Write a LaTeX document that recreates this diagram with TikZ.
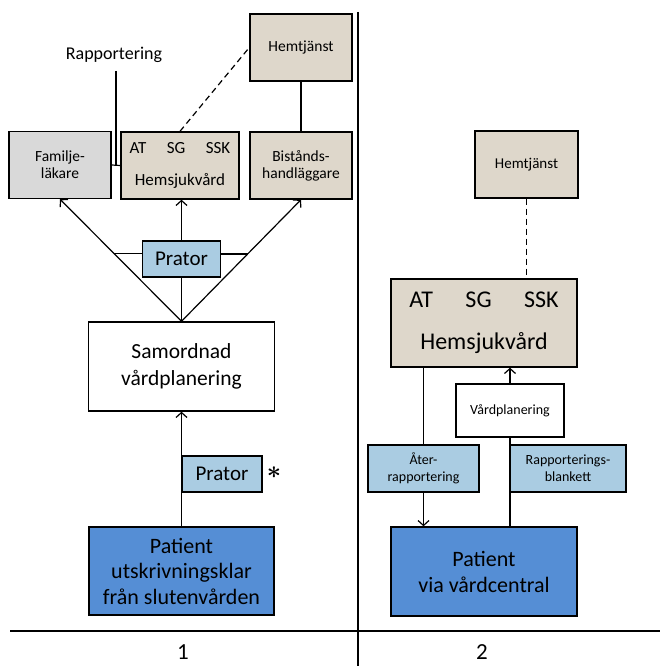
\documentclass[tikz,border=0pt]{standalone}
\usepackage{fontspec}
\setmainfont{Carlito}
\usetikzlibrary{arrows.meta}

\definecolor{boxtan}{HTML}{DED7CB}
\definecolor{boxgray}{HTML}{D9D9D9}
\definecolor{boxlight}{HTML}{AACCE2}
\definecolor{boxdark}{HTML}{558ED5}

\newcommand{\smalltxt}{\fontsize{15.5}{17}\selectfont}
\newcommand{\tinytxt}{\fontsize{14}{17}\selectfont}
\newcommand{\bigtxt}{\fontsize{21.5}{27}\selectfont}
\newcommand{\boldstar}{\mbox{\boldmath$\ast$}}

\begin{document}
\begin{tikzpicture}[x=1pt, y=-1pt, line width=1.2pt,
    >={Straight Barb[length=5pt,width=11pt]},
    box/.style={draw, line width=1.4pt, inner sep=0pt, align=center},
    tanbox/.style={box, fill=boxtan},
    graybox/.style={box, fill=boxgray},
    lightbox/.style={box, fill=boxlight},
    darkbox/.style={box, fill=boxdark},
    whitebox/.style={box, fill=white},
    dashline/.style={dash pattern=on 6pt off 4pt}]

    \useasboundingbox (0,0) rectangle (660,666);

    % Nodes for the left side, top row
    \node at (301,47.5) (hemtjL) [tanbox, minimum width=102pt, minimum height=67pt, font=\smalltxt] {Hemtjänst};
    \node at (114,55) (rapp) [font=\fontsize{18}{20}\selectfont] {Rapportering};
    \node at (60,165) (famlak) [graybox, minimum width=102pt, minimum height=67pt, font=\smalltxt] {Familje-\\läkare};
    \node at (180,165.5) (hemsjL) [tanbox, minimum width=118pt, minimum height=67pt, font=\fontsize{17}{20}\selectfont] {AT\hspace{1.2em}SG\hspace{1.2em}SSK\\[12pt]Hemsjukvård};
    \node at (301,165.5) (bistand) [tanbox, minimum width=102pt, minimum height=67pt, font=\smalltxt] {Bistånds-\\handläggare};

    % Nodes for the left side, lower part
    \node at (181.5,259) (pratorA) [lightbox, minimum width=78pt, minimum height=36pt, font=\fontsize{21}{25}\selectfont] {Prator};
    \node at (181.5,366.5) (samord) [whitebox, minimum width=186pt, minimum height=89pt, font=\bigtxt] {Samordnad\\vårdplanering};
    \node at (222,474) (pratorB) [lightbox, minimum width=80pt, minimum height=36pt, font=\fontsize{21}{25}\selectfont] {Prator};
    \node at (274,473) (star) [inner sep=0pt, font=\fontsize{30}{32}\selectfont] {\boldstar};
    \node at (181.5,571) (patientL) [darkbox, minimum width=185pt, minimum height=88pt, font=\fontsize{22}{25.5}\selectfont] {Patient\\utskrivningsklar\\från slutenvården};

    % Nodes for the right side
    \node at (526.5,164.5) (hemtjR) [tanbox, minimum width=103pt, minimum height=67pt, font=\fontsize{15}{17}\selectfont] {Hemtjänst};
    \node at (484,323) (hemsjR) [tanbox, minimum width=186pt, minimum height=88pt, font=\fontsize{24}{28}\selectfont] {AT\hspace{1.35em}SG\hspace{1.35em}SSK\\[14pt]Hemsjukvård};
    \node at (510,410.5) (vardpl) [whitebox, minimum width=108pt, minimum height=53pt, font=\tinytxt] {Vårdplanering};
    \node at (423.5,468.5) (aterr) [lightbox, minimum width=111pt, minimum height=47pt, font=\tinytxt] {Åter-\\rapportering};
    \node at (568,468.5) (rappbl) [lightbox, minimum width=116pt, minimum height=47pt, font=\tinytxt] {Rapporterings-\\blankett};
    \node at (484,571.5) (patientR) [darkbox, minimum width=186pt, minimum height=89pt, font=\fontsize{22}{26}\selectfont] {Patient\\via vårdcentral};

    % Numbers under the two parts
    \node at (183,652) (num1) [inner sep=0pt, font=\fontsize{23}{25}\selectfont] {1};
    \node at (482,652) (num2) [inner sep=0pt, font=\fontsize{23}{25}\selectfont] {2};

    % Dividing lines
    \draw (10,631) -- (660,631);
    \draw (358,12) -- (358,666);

    % Connectors for the left side
    \coordinate (rtop) at (116,71);
    \draw (famlak.east) -- (hemsjL.west);
    \draw (rtop) -- (rtop |- hemsjL.west);
    \draw[dashline] (hemsjL.north) -- (hemtjL.west);
    \draw (hemtjL.south) -- (bistand.north);
    \draw[->] (samord.north) -- coordinate[pos=0.553] (jl) (famlak.south);
    \draw[->] (samord.north) -- coordinate[pos=0.553] (jr) (bistand.south);
    \draw (jl) -- (jl -| pratorA.west);
    \draw (jr) -- (jr -| pratorA.east);
    \draw (samord.north) -- (pratorA.south);
    \draw[->] (pratorA.north) -- (pratorA.north |- hemsjL.south);
    \draw[->] (patientL.north) -- (samord.south);

    % Connectors for the right side
    \draw[dashline] (hemtjR.south) -- (hemtjR.south |- hemsjR.north);
    \draw (aterr.north |- hemsjR.south) -- (aterr.north);
    \draw[->] (aterr.south) -- (aterr.south |- patientR.north);
    \draw[->] (vardpl.north) -- (vardpl.north |- hemsjR.south);
    \draw (vardpl.south) -- (vardpl.south |- patientR.north);

\end{tikzpicture}
\end{document}
